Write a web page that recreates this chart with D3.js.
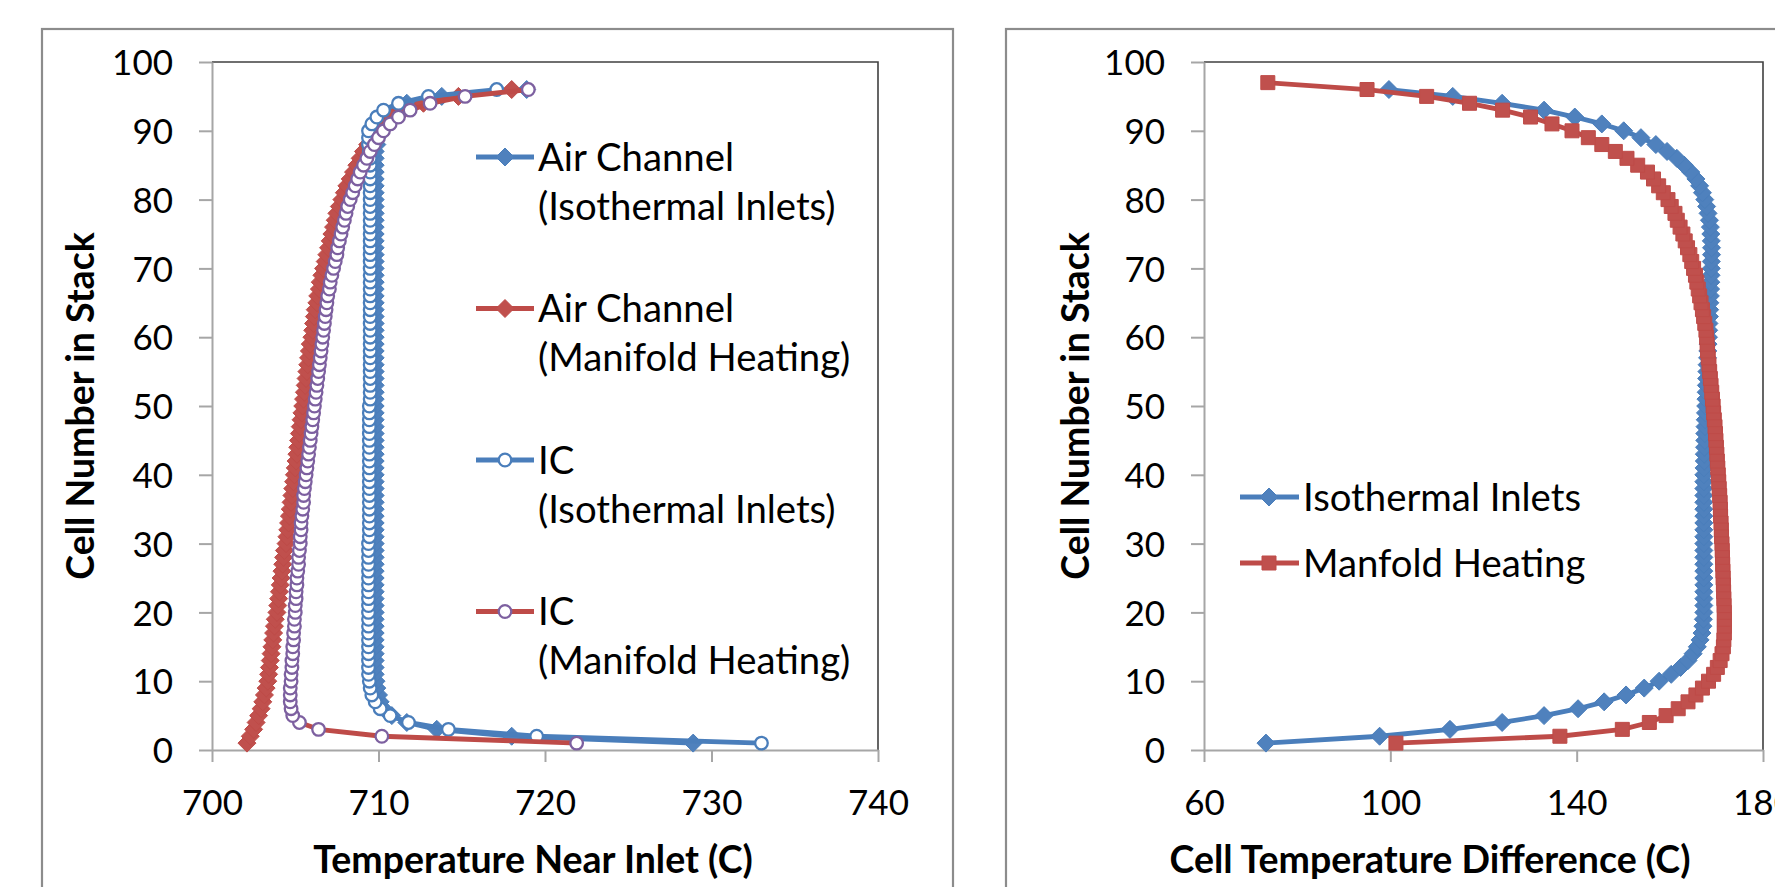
<!DOCTYPE html>
<html><head><meta charset="utf-8">
<script src="https://cdn.jsdelivr.net/npm/d3@7"></script>
<style>
body{margin:0;background:#fff;}
svg{display:block;}
text{font-family:Lato,"Open Sans",sans-serif;fill:#000;}
</style>
</head><body>
<svg id="chart" width="1775" height="887"></svg>
<script>
// ---------------- DATA ----------------
const cells96 = [1,2,3,4,5,6,7,8,9,10,11,12,13,14,15,16,17,18,19,20,21,22,23,24,25,26,27,28,29,30,31,32,33,34,35,36,37,38,39,40,41,42,43,44,45,46,47,48,49,50,51,52,53,54,55,56,57,58,59,60,61,62,63,64,65,66,67,68,69,70,71,72,73,74,75,76,77,78,79,80,81,82,83,84,85,86,87,88,89,90,91,92,93,94,95,96];
const cells97 = [1,2,3,4,5,6,7,8,9,10,11,12,13,14,15,16,17,18,19,20,21,22,23,24,25,26,27,28,29,30,31,32,33,34,35,36,37,38,39,40,41,42,43,44,45,46,47,48,49,50,51,52,53,54,55,56,57,58,59,60,61,62,63,64,65,66,67,68,69,70,71,72,73,74,75,76,77,78,79,80,81,82,83,84,85,86,87,88,89,90,91,92,93,94,95,96,97];

// Left chart: Temperature Near Inlet (C)
const airChannelIsothermal = [728.9,718.0,713.5,711.7,710.8,710.3,710.1,710.0,709.9,709.85,
 709.8,709.8,709.8,709.8,709.8,709.8,709.8,709.8,709.8,709.8,
 709.8,709.8,709.8,709.8,709.8,709.8,709.8,709.8,709.8,709.8,
 709.8,709.8,709.8,709.8,709.8,709.8,709.8,709.8,709.8,709.8,
 709.8,709.8,709.8,709.8,709.8,709.8,709.8,709.8,709.8,709.8,
 709.8,709.8,709.8,709.8,709.8,709.8,709.8,709.8,709.8,709.8,
 709.8,709.8,709.8,709.8,709.8,709.8,709.8,709.8,709.8,709.8,
 709.8,709.8,709.8,709.8,709.8,709.8,709.8,709.8,709.8,709.8,
 709.8,709.8,709.8,709.8,709.8,709.8,709.8,709.9,709.9,710.0,
 710.2,710.5,711.0,711.7,713.8,718.9];
const airChannelManifold = [702.1,702.3,702.5,702.65,702.8,702.95,703.05,703.15,703.25,703.35,
 703.4,703.45,703.5,703.55,703.6,703.65,703.7,703.75,703.8,703.9,
 703.95,704.0,704.05,704.1,704.15,704.2,704.25,704.3,704.35,704.45,
 704.5,704.55,704.6,704.65,704.7,704.75,704.8,704.85,704.9,704.95,
 705.0,705.05,705.1,705.15,705.2,705.25,705.3,705.35,705.4,705.45,
 705.5,705.55,705.6,705.65,705.7,705.75,705.8,705.85,705.9,706.0,
 706.05,706.1,706.15,706.2,706.3,706.35,706.45,706.5,706.6,706.7,
 706.8,706.9,707.0,707.1,707.2,707.3,707.4,707.5,707.65,707.8,
 707.95,708.1,708.3,708.5,708.7,708.9,709.1,709.35,709.6,709.9,
 710.3,710.8,711.5,712.7,714.8,718.0];
const icIsothermal = [733.0,719.5,714.2,711.8,710.7,710.1,709.8,709.6,709.5,709.45,
 709.4,709.4,709.4,709.4,709.4,709.4,709.4,709.4,709.4,709.4,
 709.4,709.4,709.4,709.4,709.4,709.4,709.4,709.4,709.4,709.4,
 709.45,709.45,709.45,709.45,709.45,709.45,709.45,709.45,709.45,709.45,
 709.45,709.45,709.45,709.45,709.45,709.45,709.45,709.45,709.45,709.45,
 709.5,709.5,709.5,709.5,709.5,709.5,709.5,709.5,709.5,709.5,
 709.5,709.5,709.5,709.5,709.5,709.5,709.5,709.5,709.5,709.5,
 709.5,709.5,709.5,709.5,709.5,709.5,709.5,709.5,709.5,709.5,
 709.5,709.5,709.5,709.5,709.5,709.5,709.45,709.4,709.4,709.4,
 709.6,709.9,710.3,711.2,713.0,717.1];
const icManifold = [721.9,710.2,706.4,705.25,704.85,704.75,704.7,704.7,704.7,704.75,
 704.75,704.8,704.8,704.85,704.85,704.9,704.9,704.95,704.95,705.0,
 705.0,705.05,705.05,705.1,705.1,705.15,705.2,705.2,705.25,705.3,
 705.3,705.35,705.35,705.4,705.45,705.5,705.5,705.55,705.6,705.65,
 705.7,705.75,705.8,705.85,705.9,705.95,706.0,706.05,706.1,706.15,
 706.2,706.25,706.3,706.35,706.4,706.45,706.5,706.55,706.6,706.65,
 706.7,706.75,706.8,706.85,706.9,706.95,707.05,707.1,707.2,707.3,
 707.4,707.5,707.55,707.65,707.75,707.85,707.95,708.05,708.15,708.3,
 708.45,708.6,708.75,708.9,709.1,709.3,709.5,709.75,710.0,710.3,
 710.7,711.2,711.9,713.1,715.2,719.0];

// Right chart: Cell Temperature Difference (C)
const isothermalInlets = [73.3,97.7,112.8,124.0,133.0,140.3,145.9,150.6,154.5,157.7,
 160.3,162.3,163.9,165.0,165.9,166.5,166.9,167.1,167.2,167.3,
 167.3,167.3,167.3,167.3,167.3,167.3,167.3,167.3,167.3,167.3,
 167.3,167.3,167.3,167.3,167.3,167.3,167.3,167.3,167.3,167.3,
 167.35,167.4,167.4,167.45,167.5,167.5,167.55,167.6,167.65,167.7,
 167.75,167.8,167.85,167.9,167.95,168.0,168.1,168.15,168.2,168.3,
 168.35,168.4,168.5,168.55,168.6,168.7,168.75,168.8,168.85,168.9,
 168.9,168.95,168.95,168.9,168.8,168.7,168.5,168.2,167.9,167.5,
 167.0,166.4,165.6,164.5,163.1,161.5,159.4,157.0,153.8,150.1,
 145.4,139.6,133.0,124.0,113.4,99.7];
const manifoldHeating = [101.2,136.4,149.8,155.6,159.2,161.8,163.9,165.6,167.0,168.3,
 169.4,170.2,170.8,171.2,171.5,171.6,171.7,171.7,171.7,171.7,
 171.65,171.6,171.55,171.5,171.45,171.4,171.35,171.3,171.25,171.2,
 171.1,171.05,171.0,170.9,170.85,170.8,170.7,170.6,170.5,170.4,
 170.3,170.2,170.1,170.0,169.9,169.8,169.7,169.55,169.4,169.3,
 169.15,169.0,168.85,168.7,168.55,168.4,168.25,168.1,168.0,167.9,
 167.75,167.5,167.25,167.0,166.7,166.4,166.1,165.8,165.5,165.1,
 164.7,164.3,163.8,163.3,162.8,162.2,161.6,161.1,160.3,159.6,
 158.6,157.6,156.5,155.2,153.1,150.8,148.3,145.4,142.5,139.0,
 134.7,130.1,124.1,117.0,107.8,95.0,73.7];

const yTickValues = [0,10,20,30,40,50,60,70,80,90,100];
const leftXTickValues = [700,710,720,730,740];
const rightXTickValues = [60,100,140,180];
const leftXTitle = "Temperature Near Inlet (C)";
const rightXTitle = "Cell Temperature Difference (C)";
const yTitle = "Cell Number in Stack";
const leftLegendLines = [["Air Channel","(Isothermal Inlets)"],["Air Channel","(Manifold Heating)"],["IC","(Isothermal Inlets)"],["IC","(Manifold Heating)"]];
const rightLegendLabels = ["Isothermal Inlets","Manfold Heating"];

// ---------------- STYLE ----------------
const BLUE_LINE = "#4A7EBB", BLUE_FILL = "#4F81BD";
const RED_LINE = "#BE4B48", RED_FILL = "#C0504D";
const PURPLE = "#7D60A0";
const AXIS_GRAY = "#a6a6a6", FRAME = "#404040", PANEL = "#8c8c8c";
const TICK_FS = 35, LEG_FS = 38.3, TITLE_FS = 37.5;
const DIA = 9, SQ = 7, CIR = 6.3, LW = 4.8;

const svg = d3.select("#chart");

// panel borders
svg.append("rect").attr("x",42).attr("y",29).attr("width",911).attr("height",900)
  .attr("fill","none").attr("stroke",PANEL).attr("stroke-width",2.2);
svg.append("rect").attr("x",1006).attr("y",29).attr("width",900).attr("height",900)
  .attr("fill","none").attr("stroke",PANEL).attr("stroke-width",2.2);

function diamondPath(h){ return `M0,${-h}L${h},0L0,${h}L${-h},0Z`; }
function squarePath(h){ return `M${-h},${-h}H${h}V${h}H${-h}Z`; }

function makePlot(cfg){
  const g = svg.append("g");
  const x = d3.scaleLinear().domain(cfg.xDomain).range([cfg.left, cfg.right]);
  const y = d3.scaleLinear().domain([0,100]).range([cfg.bottom, cfg.top]);
  g.append("path").attr("d",`M${cfg.left},${cfg.top}H${cfg.right}V${cfg.bottom}`)
    .attr("fill","none").attr("stroke",FRAME).attr("stroke-width",1.6);
  const ya = g.append("g").attr("transform",`translate(${cfg.left},0)`)
    .call(d3.axisLeft(y).tickValues(yTickValues).tickSize(13).tickSizeOuter(0).tickPadding(26).tickFormat(d3.format("d")));
  const xa = g.append("g").attr("transform",`translate(0,${cfg.bottom})`)
    .call(d3.axisBottom(x).tickValues(cfg.xTicks).tickSize(12).tickSizeOuter(0).tickFormat(d3.format("d")));
  [ya,xa].forEach(a=>{
    a.select(".domain").attr("stroke",AXIS_GRAY).attr("stroke-width",2);
    a.selectAll(".tick line").attr("stroke",AXIS_GRAY).attr("stroke-width",2);
    a.selectAll("text").attr("font-size",TICK_FS).attr("font-family","Lato").attr("fill","#000");
  });
  ya.selectAll("text").attr("dy","0.36em");
  xa.selectAll("text").attr("y",65).attr("dy",null);
  g.append("text").attr("x",cfg.xTitleX).attr("y",873).attr("text-anchor","middle")
    .attr("font-size",TITLE_FS).attr("font-weight","bold").text(cfg.xTitle);
  g.append("text").attr("transform",`translate(${cfg.yTitleX},406) rotate(-90)`)
    .attr("text-anchor","middle").attr("dy","0.36em")
    .attr("font-size",TITLE_FS).attr("font-weight","bold").text(yTitle);
  return {g,x,y};
}

function drawMarker(g, cx, cy, s){
  if(s.marker==="diamond"){
    g.append("path").attr("d",diamondPath(DIA)).attr("transform",`translate(${cx},${cy})`)
      .attr("fill",s.fill).attr("stroke",s.line).attr("stroke-width",1);
  } else if(s.marker==="square"){
    g.append("path").attr("d",squarePath(SQ)).attr("transform",`translate(${cx},${cy})`)
      .attr("fill",s.fill).attr("stroke",s.line).attr("stroke-width",1);
  } else {
    g.append("circle").attr("cx",cx).attr("cy",cy).attr("r",CIR)
      .attr("fill","#fff").attr("stroke",s.edge).attr("stroke-width",2.3);
  }
}

function drawSeries(p, xs, ys, s){
  const pts = xs.map((v,i)=>[p.x(v), p.y(ys[i])]);
  p.g.append("path").attr("d",d3.line()(pts)).attr("fill","none")
    .attr("stroke",s.line).attr("stroke-width",LW).attr("stroke-linejoin","round");
  const m = p.g.append("g");
  pts.forEach(pt=>drawMarker(m, pt[0], pt[1], s));
}

function legendMarker(g, cx, cy, s, x0, x1){
  g.append("line").attr("x1",x0).attr("x2",x1).attr("y1",cy).attr("y2",cy)
    .attr("stroke",s.line).attr("stroke-width",LW);
  drawMarker(g, cx, cy, s);
}

// ---------------- LEFT ----------------
const L = makePlot({left:212,right:878,top:62,bottom:750,xDomain:[700,740],xTicks:leftXTickValues,
  xTitle:leftXTitle,xTitleX:533,yTitleX:80});
const leftStyles = [
  {line:BLUE_LINE,fill:BLUE_FILL,marker:"diamond"},
  {line:RED_LINE,fill:RED_FILL,marker:"diamond"},
  {line:BLUE_LINE,edge:BLUE_LINE,marker:"circle"},
  {line:RED_LINE,edge:PURPLE,marker:"circle"}
];
drawSeries(L, airChannelIsothermal, cells96, leftStyles[0]);
drawSeries(L, airChannelManifold, cells96, leftStyles[1]);
drawSeries(L, icIsothermal, cells96, leftStyles[2]);
drawSeries(L, icManifold, cells96, leftStyles[3]);

const legL = svg.append("g");
leftLegendLines.forEach((lines,i)=>{
  const cy = 157 + i*151.5;
  legendMarker(legL, 505, cy, leftStyles[i], 476, 534);
  lines.forEach((t,j)=>{
    legL.append("text").attr("x",538).attr("y",cy + j*49).attr("dy","0.36em")
      .attr("font-size",LEG_FS).text(t);
  });
});

// ---------------- RIGHT ----------------
const R = makePlot({left:1204,right:1763,top:62,bottom:750,xDomain:[60,180],xTicks:rightXTickValues,
  xTitle:rightXTitle,xTitleX:1430,yTitleX:1075});
const rightStyles = [
  {line:BLUE_LINE,fill:BLUE_FILL,marker:"diamond"},
  {line:RED_LINE,fill:RED_FILL,marker:"square"}
];
drawSeries(R, isothermalInlets, cells96, rightStyles[0]);
drawSeries(R, manifoldHeating, cells97, rightStyles[1]);

const legR = svg.append("g");
rightLegendLabels.forEach((t,i)=>{
  const cy = 497 + i*66;
  legendMarker(legR, 1269, cy, rightStyles[i], 1240, 1299);
  legR.append("text").attr("x",1303).attr("y",cy).attr("dy","0.36em").attr("font-size",LEG_FS).text(t);
});
</script>
</body></html>
